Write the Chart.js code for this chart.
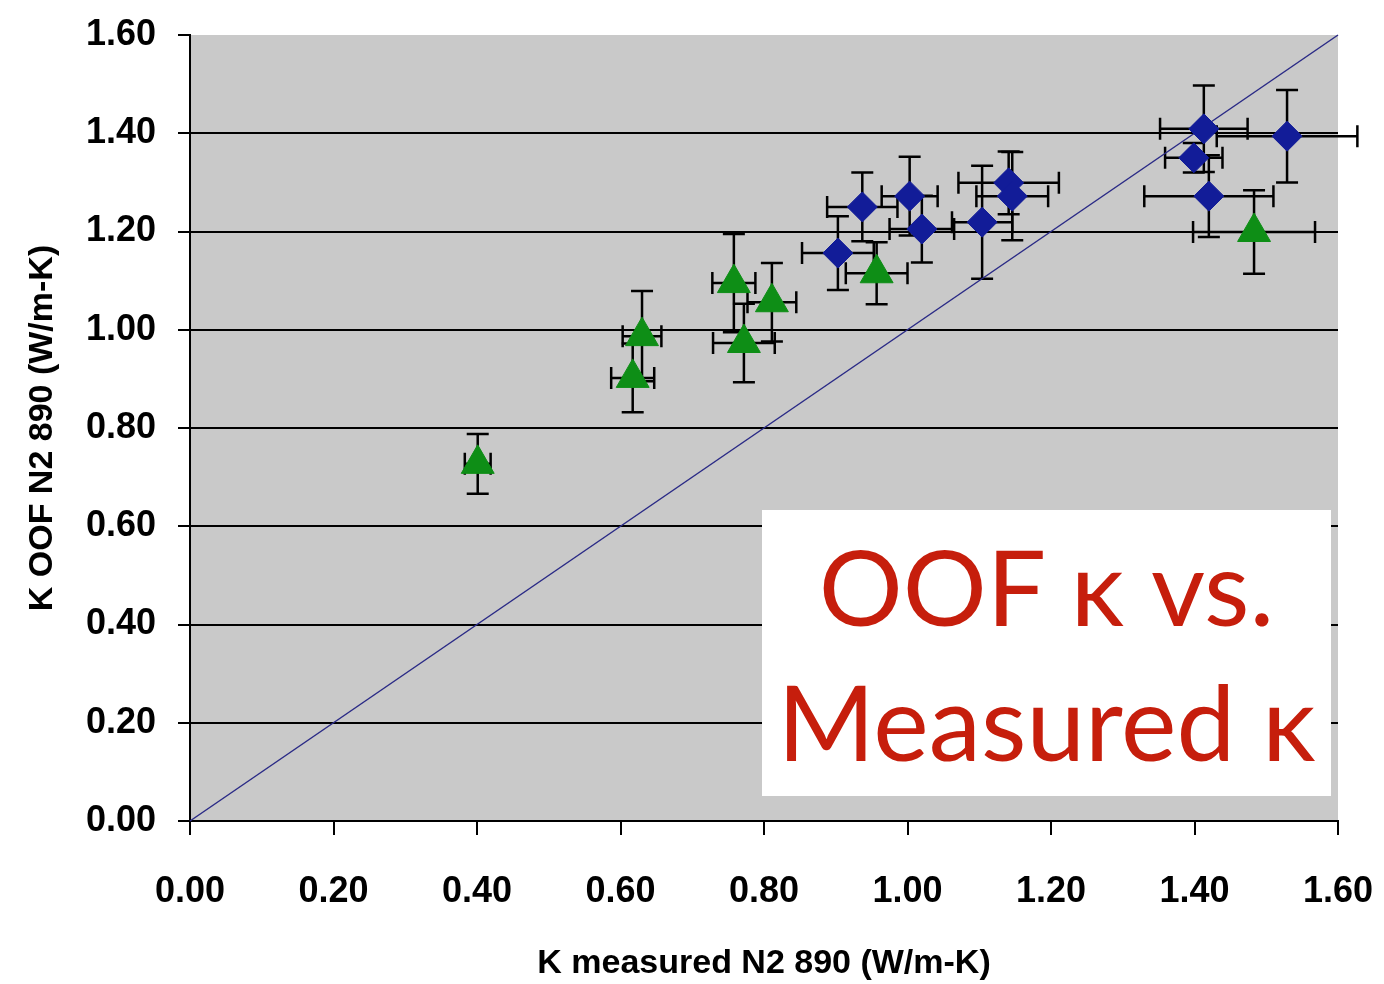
<!DOCTYPE html>
<html>
<head>
  <meta charset="UTF-8">
  <title>OOF k vs. Measured k</title>
  <script src="https://cdn.jsdelivr.net/npm/chart.js"></script>
  <style>
    body {
      margin: 0;
      background: #fff;
    }
    #wrap {
      position: relative;
      width: 1384px;
      height: 984px;
    }
    #note {
      position: absolute;
      left: 762px;
      top: 510px;
      width: 569px;
      height: 286px;
      background: #fff;
      color: #c61e0c;
      font-family: Lato, "Open Sans", sans-serif;
      font-size: 105px;
      line-height: 135px;
      text-align: center;
      box-sizing: border-box;
      padding-top: 8px;
      white-space: nowrap;
    }
  </style>
</head>
<body>
  <div id="wrap">
    <canvas id="kChart" width="1384" height="984"></canvas>
    <div id="note">OOF κ vs.<br>Measured κ</div>
  </div>

  <script>
    // values
    const blueX = [0.903, 0.937, 1.003, 1.020, 1.104, 1.141, 1.146, 1.413, 1.399, 1.420, 1.529];
    const blueY = [1.156, 1.250, 1.272, 1.205, 1.219, 1.299, 1.272, 1.409, 1.350, 1.272, 1.394];
    const blueXErr = [0.050, 0.049, 0.039, 0.045, 0.042, 0.070, 0.050, 0.061, 0.040, 0.090, 0.098];
    const blueYErr = [0.075, 0.070, 0.080, 0.068, 0.115, 0.064, 0.090, 0.088, 0.030, 0.083, 0.094];

    const greenX = [0.401, 0.617, 0.630, 0.758, 0.772, 0.811, 0.957, 1.483];
    const greenY = [0.727, 0.902, 0.987, 1.095, 0.973, 1.056, 1.115, 1.199];
    const greenXErr = [0.018, 0.030, 0.027, 0.030, 0.043, 0.034, 0.043, 0.085];
    const greenYErr = [0.061, 0.070, 0.092, 0.100, 0.080, 0.080, 0.063, 0.085];

    const parityLine = [0, 1.6];
    const tickValues = [0, 0.2, 0.4, 0.6, 0.8, 1.0, 1.2, 1.4, 1.6];

    const toPoints = (xs, ys) => xs.map((x, i) => ({ x: x, y: ys[i] }));

    const labelFont = { family: '"Liberation Sans", Arial, sans-serif', size: 36, weight: 'bold' };
    const titleFont = { family: '"Liberation Sans", Arial, sans-serif', size: 34, weight: 'bold' };

    // gray plot area
    const plotBg = {
      id: 'plotBg',
      beforeDraw(chart) {
        const a = chart.chartArea;
        const ctx = chart.ctx;
        ctx.save();
        ctx.fillStyle = '#c9c9c9';
        ctx.fillRect(a.left, a.top, a.right - a.left, a.bottom - a.top);
        ctx.restore();
      }
    };

    // x and y error bars, drawn under the markers
    const errorBars = {
      id: 'errorBars',
      beforeDatasetsDraw(chart) {
        const ctx = chart.ctx;
        const xs = chart.scales.x, ys = chart.scales.y;
        const cap = 11;
        const sets = [
          [blueX, blueY, blueXErr, blueYErr],
          [greenX, greenY, greenXErr, greenYErr]
        ];
        ctx.save();
        ctx.strokeStyle = '#000';
        ctx.lineWidth = 2.5;
        sets.forEach(([px, py, ex, ey]) => {
          px.forEach((x, i) => {
            const cx = xs.getPixelForValue(x);
            const cy = ys.getPixelForValue(py[i]);
            const x0 = xs.getPixelForValue(x - ex[i]);
            const x1 = xs.getPixelForValue(x + ex[i]);
            const y0 = ys.getPixelForValue(py[i] + ey[i]);
            const y1 = ys.getPixelForValue(py[i] - ey[i]);
            ctx.beginPath();
            ctx.moveTo(x0, cy); ctx.lineTo(x1, cy);
            ctx.moveTo(x0, cy - cap); ctx.lineTo(x0, cy + cap);
            ctx.moveTo(x1, cy - cap); ctx.lineTo(x1, cy + cap);
            ctx.moveTo(cx, y0); ctx.lineTo(cx, y1);
            ctx.moveTo(cx - cap, y0); ctx.lineTo(cx + cap, y0);
            ctx.moveTo(cx - cap, y1); ctx.lineTo(cx + cap, y1);
            ctx.stroke();
          });
        });
        ctx.restore();
      }
    };

    new Chart(document.getElementById('kChart'), {
      type: 'scatter',
      data: {
        datasets: [
          {
            label: 'parity',
            type: 'line',
            data: toPoints(parityLine, parityLine),
            borderColor: '#2a2a86',
            borderWidth: 1.5,
            pointRadius: 0,
            order: 3
          },
          {
            label: 'blue',
            data: toPoints(blueX, blueY),
            pointStyle: 'rectRot',
            pointRadius: 15,
            pointHoverRadius: 15,
            backgroundColor: '#121c98',
            borderColor: '#121c98',
            borderWidth: 1,
            order: 2
          },
          {
            label: 'green',
            data: toPoints(greenX, greenY),
            pointStyle: 'triangle',
            pointRadius: 19,
            pointHoverRadius: 19,
            backgroundColor: '#0e8e16',
            borderColor: '#0e8e16',
            borderWidth: 1,
            order: 1
          }
        ]
      },
      options: {
        responsive: false,
        animation: false,
        clip: false,
        layout: { padding: { top: 35, right: 46, left: 0, bottom: 0 } },
        plugins: {
          legend: { display: false },
          tooltip: { enabled: false }
        },
        scales: {
          x: {
            type: 'linear',
            min: 0,
            max: 1.6,
            afterBuildTicks: s => { s.ticks = tickValues.map(v => ({ value: v })); },
            afterFit: s => { s.height = 163; s.paddingLeft = 0; s.paddingRight = 0; },
            ticks: {
              font: labelFont,
              color: '#000',
              padding: 35,
              maxRotation: 0,
              callback: v => v.toFixed(2)
            },
            grid: {
              drawOnChartArea: false,
              drawTicks: true,
              tickLength: 14,
              color: '#000',
              lineWidth: 2
            },
            border: { color: '#000', width: 2 },
            title: {
              display: true,
              text: 'K measured N2 890 (W/m-K)',
              font: titleFont,
              color: '#000',
              padding: { top: 0, bottom: 0 }
            }
          },
          y: {
            type: 'linear',
            min: 0,
            max: 1.6,
            afterBuildTicks: s => { s.ticks = tickValues.map(v => ({ value: v })); },
            afterFit: s => { s.width = 190; s.paddingTop = 0; s.paddingBottom = 0; },
            ticks: {
              font: labelFont,
              color: '#000',
              padding: 22,
              callback: v => v.toFixed(2)
            },
            grid: {
              drawTicks: true,
              tickLength: 12,
              color: c => (c.tick && c.tick.value > 0 && c.tick.value < 1.6) ? '#000' : 'rgba(0,0,0,0)',
              tickColor: '#000',
              lineWidth: 2
            },
            border: { color: '#000', width: 2 },
            title: {
              display: true,
              text: 'K OOF N2 890 (W/m-K)',
              font: titleFont,
              color: '#000',
              padding: { top: 22, bottom: 0 }
            }
          }
        }
      },
      plugins: [plotBg, errorBars]
    });
  </script>
</body>
</html>
